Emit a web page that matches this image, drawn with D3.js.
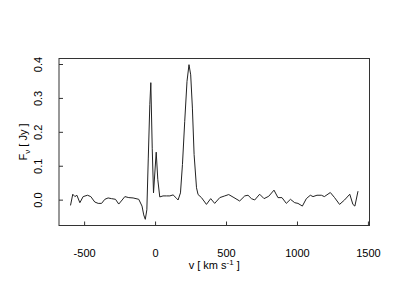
<!DOCTYPE html>
<html>
<head>
<meta charset="utf-8">
<script src="https://cdn.jsdelivr.net/npm/d3@7"></script>
<style>
  body { margin: 0; background: #fff; }
  svg { display: block; font-family: "Liberation Sans", Arial, Helvetica, sans-serif; }
</style>
</head>
<body>
<script>
// velocity (km/s) and flux density (Jy)
const velocity = [
  -596, -580, -565, -551, -530, -507, -476, -453, -425, -401, -377, -354,
  -331, -307, -279, -256, -232, -213, -185, -155, -115, -92, -80, -69,
  -58, -48, -37, -30, -20, -11, 8, 19, 33, 56, 80, 104, 127, 151, 162,
  179, 193, 209, 225, 239, 251, 263, 275, 292, 303, 327, 362, 392, 420,
  456, 491, 519, 556, 596, 632, 655, 679, 702, 737, 768, 801, 838, 866,
  894, 925, 954, 984, 1007, 1038, 1066, 1094, 1113, 1141, 1172, 1193,
  1235, 1265, 1300, 1335, 1372, 1394, 1408, 1430
];
const flux = [
  -0.017, 0.016, 0.009, 0.013, -0.009, 0.009, 0.013, 0.009, -0.007, -0.011, -0.011, 0.001,
  0.005, 0.003, 0.001, -0.013, -0.001, 0.009, 0.006, 0.005, 0.001, -0.019, -0.045, -0.058,
  -0.030, 0.120, 0.280, 0.345, 0.150, 0.020, 0.140, 0.060, 0.008, 0.011, 0.011, 0.011, 0.014, 0.004, -0.001,
  0.020, 0.104, 0.231, 0.349, 0.398, 0.368, 0.270, 0.133, 0.035, 0.015, 0.006, -0.014, 0.003, -0.011,
  0.006, 0.011, 0.015, 0.006, -0.004, 0.011, 0.013, 0.003, -0.001, 0.016, 0.003, 0.010, 0.028, 0.006,
  0.006, -0.011, 0.001, -0.009, -0.011, -0.019, 0.003, 0.013, 0.009, 0.013, 0.013, 0.009,
  0.021, 0.006, -0.014, -0.001, 0.016, -0.014, -0.019, 0.025
];
const xTicks = [-500, 0, 500, 1000, 1500];
const yTicks = [0, 0.1, 0.2, 0.3, 0.4];

const width = 400, height = 300;
const plotLeft = 59, plotRight = 369.5, plotTop = 58.5, plotBottom = 225.5;

// R-style 4% padding around the data range
function padded(values) {
  const [lo, hi] = d3.extent(values);
  const pad = 0.04 * (hi - lo);
  return [lo - pad, hi + pad];
}

const x = d3.scaleLinear().domain(padded(velocity)).range([plotLeft, plotRight]);
const y = d3.scaleLinear().domain(padded(flux)).range([plotBottom, plotTop]);

const svg = d3.select("body").append("svg")
  .attr("width", width)
  .attr("height", height);

// spectrum
const line = d3.line()
  .x((d, i) => x(velocity[i]))
  .y(d => y(d));

svg.append("path")
  .datum(flux)
  .attr("d", line)
  .attr("fill", "none")
  .attr("stroke", "#222")
  .attr("stroke-width", 1)
  .attr("stroke-linejoin", "round");

// box
svg.append("rect")
  .attr("x", plotLeft)
  .attr("y", plotTop)
  .attr("width", plotRight - plotLeft)
  .attr("height", plotBottom - plotTop)
  .attr("fill", "none")
  .attr("stroke", "#333")
  .attr("stroke-width", 1);

// axes, ticks pointing inward
const xAxis = d3.axisBottom(x).tickValues(xTicks).tickSize(-4).tickPadding(24).tickFormat(d => String(d));
const gx = svg.append("g").attr("transform", `translate(0,${plotBottom})`).call(xAxis);
gx.select(".domain").remove();
gx.selectAll(".tick line").attr("stroke", "#333");
gx.selectAll(".tick text")
  .attr("fill", "#000")
  .attr("font-size", 11)
  .attr("font-family", "Liberation Sans, Arial, sans-serif");

const yAxis = d3.axisLeft(y).tickValues(yTicks).tickSize(-4).tickFormat(d => d.toFixed(1));
const gy = svg.append("g").attr("transform", `translate(${plotLeft},0)`).call(yAxis);
gy.select(".domain").remove();
gy.selectAll(".tick line").attr("stroke", "#333");
gy.selectAll(".tick text")
  .attr("fill", "#000")
  .attr("font-size", 11)
  .attr("font-family", "Liberation Sans, Arial, sans-serif")
  .attr("x", null).attr("dy", null)
  .attr("text-anchor", "middle")
  .attr("transform", `translate(${41.5 - plotLeft},0) rotate(-90)`);

// axis titles
const xt = svg.append("text")
  .attr("x", (plotLeft + plotRight) / 2)
  .attr("y", 269)
  .attr("text-anchor", "middle")
  .attr("font-size", 11);
xt.append("tspan").text("v [ km s");
xt.append("tspan").attr("font-size", 8).attr("dy", -4).text("-1");
xt.append("tspan").attr("dy", 4).text(" ]");

const yt = svg.append("text")
  .attr("transform", `translate(26.5,${(plotTop + plotBottom) / 2}) rotate(-90)`)
  .attr("text-anchor", "middle")
  .attr("font-size", 11);
yt.append("tspan").text("F");
yt.append("tspan").attr("font-size", 8).attr("dy", 3).text("\u03bd");
yt.append("tspan").attr("dy", -3).text(" [ Jy ]");
</script>
</body>
</html>
